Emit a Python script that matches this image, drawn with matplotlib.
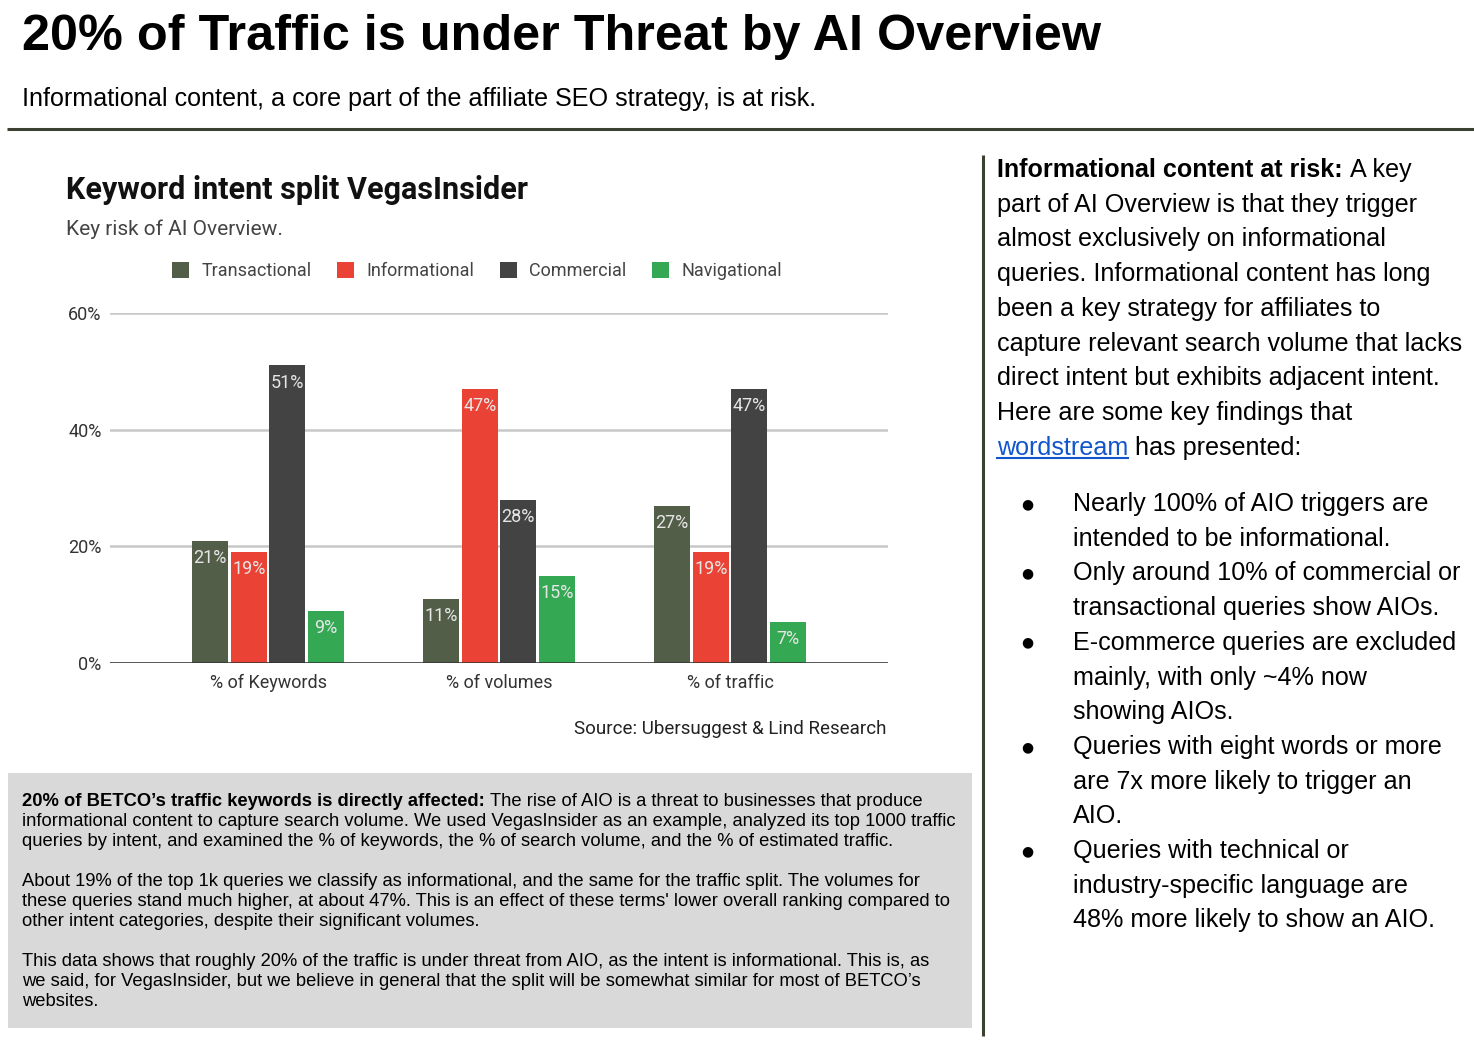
import matplotlib
matplotlib.use("Agg")
import matplotlib.pyplot as plt
from matplotlib.patches import Patch, Rectangle
import numpy as np

# =======================
# DATA
# =======================
categories = ["% of Keywords", "% of volumes", "% of traffic"]
intents = ["Transactional", "Informational", "Commercial", "Navigational"]
transactional = [21, 11, 27]
informational = [19, 47, 19]
commercial = [51, 28, 47]
navigational = [9, 15, 7]
series = [transactional, informational, commercial, navigational]
colors = ["#535e48", "#ea4335", "#434343", "#34a853"]
y_ticks = [0, 20, 40, 60]
y_labels = ["0%", "20%", "40%", "60%"]

title = "20% of Traffic is under Threat by AI Overview"
subtitle = "Informational content, a core part of the affiliate SEO strategy, is at risk."
chart_title = "Keyword intent split VegasInsider"
chart_subtitle = "Key risk of AI Overview."
source = "Source: Ubersuggest & Lind Research"

box_lead = "20% of BETCO\u2019s traffic keywords is directly affected:"
box_lines = [
    [" The rise of AIO is a threat to businesses that produce",
     "informational content to capture search volume. We used VegasInsider as an example, analyzed its top 1000 traffic",
     "queries by intent, and examined the % of keywords, the % of search volume, and the % of estimated traffic."],
    ["About 19% of the top 1k queries we classify as informational, and the same for the traffic split. The volumes for",
     "these queries stand much higher, at about 47%. This is an effect of these terms' lower overall ranking compared to",
     "other intent categories, despite their significant volumes."],
    ["This data shows that roughly 20% of the traffic is under threat from AIO, as the intent is informational. This is, as",
     "we said, for VegasInsider, but we believe in general that the split will be somewhat similar for most of BETCO\u2019s",
     "websites."],
]

side_lead = "Informational content at risk:"
side_lines = [
    "A key",
    "part of AI Overview is that they trigger",
    "almost exclusively on informational",
    "queries. Informational content has long",
    "been a key strategy for affiliates to",
    "capture relevant search volume that lacks",
    "direct intent but exhibits adjacent intent.",
    "Here are some key findings that",
    "has presented:",
]
link_text = "wordstream"

bullets = [
    ["Nearly 100% of AIO triggers are", "intended to be informational."],
    ["Only around 10% of commercial or", "transactional queries show AIOs."],
    ["E-commerce queries are excluded", "mainly, with only ~4% now", "showing AIOs."],
    ["Queries with eight words or more", "are 7x more likely to trigger an", "AIO."],
    ["Queries with technical or", "industry-specific language are", "48% more likely to show an AIO."],
]

# =======================
# FIGURE
# =======================
W, H = 1474, 1044
DPI = 100
DOC = "Liberation Sans"
CHART = "Roboto"

fig = plt.figure(figsize=(W / DPI, H / DPI), dpi=DPI)
fig.patch.set_facecolor("white")

# overlay in pixel coordinates (y down)
over = fig.add_axes([0, 0, 1, 1], zorder=0)
over.set_xlim(0, W)
over.set_ylim(H, 0)
over.axis("off")
fig.canvas.draw()
renderer = fig.canvas.get_renderer()


def width(t):
    return t.get_window_extent(renderer).width


def space_w(size, family, weight="normal"):
    a = over.text(0, -100, "aa", fontsize=size, family=family, fontweight=weight)
    b = over.text(0, -100, "a a", fontsize=size, family=family, fontweight=weight)
    w = width(b) - width(a)
    a.remove()
    b.remove()
    return w


# header
over.text(22, 50, title, fontsize=36.3, fontweight="bold", family=DOC, va="baseline")
over.text(22, 106, subtitle, fontsize=18.1, family=DOC, va="baseline")
over.plot([7, W], [128.5, 128.5], color="#3b4232", lw=2.2, solid_capstyle="butt")
over.plot([983.5, 983.5], [155, 1036], color="#3b4232", lw=2.2, solid_capstyle="butt")

# gray text box
over.add_patch(Rectangle((8, 773), 964, 255, facecolor="#d9d9d9", edgecolor="none"))
bs = 13.2
sp = space_w(bs, DOC)
y = 806
for pi, para in enumerate(box_lines):
    for li, line in enumerate(para):
        x = 22
        if pi == 0 and li == 0:
            t = over.text(x, y, box_lead, fontsize=bs, fontweight="bold", family=DOC, va="baseline")
            x += width(t) + sp
            line = line.strip()
        over.text(x, y, line, fontsize=bs, family=DOC, va="baseline")
        y += 20
    y += 20

# right column
ss = 18.1
sp = space_w(ss, DOC)
lh = 34.7
y = 177
for i, line in enumerate(side_lines):
    x = 997
    if i == 0:
        t = over.text(x, y, side_lead, fontsize=ss, fontweight="bold", family=DOC, va="baseline")
        x += width(t) + sp
    if i == len(side_lines) - 1:
        t = over.text(x, y, link_text, fontsize=ss, family=DOC, va="baseline", color="#1155cc")
        w = width(t)
        over.plot([x, x + w], [y + 3, y + 3], color="#1155cc", lw=1.5)
        x += w + sp
    over.text(x, y, line, fontsize=ss, family=DOC, va="baseline")
    y += lh

y = 511
for item in bullets:
    over.text(1027, y - 7, "\u25cf", fontsize=10, family="DejaVu Sans", ha="center", va="center")
    for line in item:
        over.text(1073, y, line, fontsize=ss, family=DOC, va="baseline")
        y += lh

# =======================
# CHART
# =======================
over.text(66, 199, chart_title, fontsize=22, fontweight="bold", family=CHART, va="baseline", color="#111111")
over.text(66, 235, chart_subtitle, fontsize=15, family=CHART, va="baseline", color="#444444")
over.text(887, 734, source, fontsize=13.5, family=CHART, va="baseline", ha="right", color="#222222")

ax = fig.add_axes([110 / W, 1 - 663 / H, (888 - 110) / W, (663 - 313) / H], zorder=2)
ax.patch.set_alpha(0)
x = np.arange(len(categories))
bw = 0.156
pitch = 0.167
for i, (vals, col) in enumerate(zip(series, colors)):
    xs = x + (i - 1.5) * pitch
    bars = ax.bar(xs, vals, width=bw, color=col, zorder=3, label=intents[i])
    for b, v in zip(bars, vals):
        ax.annotate(f"{v}%", (b.get_x() + b.get_width() / 2, v), xytext=(0, -6),
                    textcoords="offset points", ha="center", va="top",
                    fontsize=13, family=CHART, color="#e6e6e6", zorder=4)

ax.set_xlim(-0.684, 2.684)
ax.set_ylim(0, 60)
ax.set_yticks(y_ticks)
ax.set_yticklabels(y_labels)
ax.set_xticks(x)
ax.set_xticklabels(categories)
for s in ax.spines.values():
    s.set_visible(False)
ax.grid(axis="y", color="#c8c8c8", lw=1.8, zorder=1)
ax.axhline(0, color="#333333", lw=1.8, zorder=5)
ax.tick_params(axis="both", length=0, labelsize=13, labelcolor="#333333")
ax.tick_params(axis="y", pad=6)
ax.tick_params(axis="x", pad=8)
for lab in ax.get_xticklabels() + ax.get_yticklabels():
    lab.set_family(CHART)

handles = [Patch(facecolor=c, edgecolor="none", label=n) for c, n in zip(colors, intents)]
leg = fig.legend(handles=handles, loc="center", bbox_to_anchor=(477 / W, 1 - 271 / H), ncol=4,
                 frameon=False, handlelength=0.95, handleheight=0.95, handletextpad=0.7,
                 columnspacing=1.4, prop={"family": CHART, "size": 13})
for t in leg.get_texts():
    t.set_color("#444444")

fig.savefig("out.png", dpi=DPI, facecolor="white")
